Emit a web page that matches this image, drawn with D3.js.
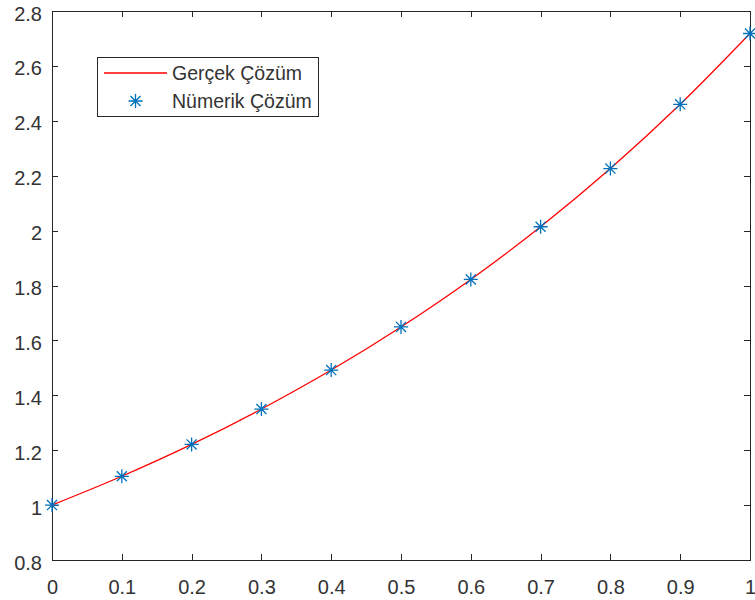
<!DOCTYPE html>
<html>
<head>
<meta charset="utf-8">
<title>Gerçek ve Nümerik Çözüm</title>
<style>
  body { margin: 0; background: #fff; }
  svg { font-family: "Liberation Sans", Arial, sans-serif; }
  .axis path, .axis line { fill: none; stroke: #262626; stroke-width: 1px; shape-rendering: crispEdges; }
  .axis text { fill: #333; font-size: 20px; }
</style>
</head>
<body>
<script src="https://cdn.jsdelivr.net/npm/d3@7"></script>
<script>

// values
var xVals = [0, 0.1, 0.2, 0.3, 0.4, 0.5, 0.6, 0.7, 0.8, 0.9, 1];
var exactVals = [1.000, 1.105, 1.221, 1.350, 1.492, 1.649, 1.822, 2.014, 2.226, 2.460, 2.718];
var numericVals = [1.000, 1.105, 1.221, 1.350, 1.492, 1.649, 1.822, 2.014, 2.226, 2.460, 2.718];
var xTicks = [0, 0.1, 0.2, 0.3, 0.4, 0.5, 0.6, 0.7, 0.8, 0.9, 1];
var yTicks = [0.8, 1, 1.2, 1.4, 1.6, 1.8, 2, 2.2, 2.4, 2.6, 2.8];
var legendLabels = ["Gerçek Çözüm", "Nümerik Çözüm"];

var margin = {top: 11, right: 5, bottom: 40, left: 52},
    width = 755 - margin.left - margin.right,
    height = 600 - margin.top - margin.bottom;

var x = d3.scaleLinear().domain([0, 1]).range([0, width]);
var y = d3.scaleLinear().domain([0.8, 2.8]).range([height, 0]);

var svg = d3.select("body").append("svg")
    .attr("width", width + margin.left + margin.right)
    .attr("height", height + margin.top + margin.bottom)
  .append("g")
    .attr("transform", "translate(" + margin.left + "," + margin.top + ")");

var fmt = function (d) { return d3.format("")(+d.toFixed(1)); };

// axes, ticks pointing inward like matlab
svg.append("g").attr("class", "axis")
    .attr("transform", "translate(0," + height + ")")
    .call(d3.axisBottom(x).tickValues(xTicks).tickFormat(fmt).tickSizeInner(-6).tickSizeOuter(0).tickPadding(20));
svg.append("g").attr("class", "axis")
    .call(d3.axisTop(x).tickValues(xTicks).tickFormat("").tickSizeInner(-6).tickSizeOuter(0));
var gY = svg.append("g").attr("class", "axis")
    .call(d3.axisLeft(y).tickValues(yTicks).tickFormat(fmt).tickSizeInner(-6).tickSizeOuter(0).tickPadding(10));
gY.selectAll("text").attr("dy", "0.45em");
svg.append("g").attr("class", "axis")
    .attr("transform", "translate(" + width + ",0)")
    .call(d3.axisRight(y).tickValues(yTicks).tickFormat("").tickSizeInner(-6).tickSizeOuter(0));

var exact = xVals.map(function (d, i) { return {q: d, p: exactVals[i]}; });
var numeric = xVals.map(function (d, i) { return {q: d, p: numericVals[i]}; });

var line = d3.line()
    .x(function (d) { return x(d.q); })
    .y(function (d) { return y(d.p); })
    .curve(d3.curveMonotoneX);

svg.append("path")
    .datum(exact)
    .attr("d", line)
    .style("fill", "none")
    .style("stroke", "#ff0000")
    .style("stroke-width", 1.3);

// matlab style '*' marker: plus + cross
function star(cx, cy, r) {
  var p = d3.path(), k = r * 0.72;
  p.moveTo(cx - r, cy); p.lineTo(cx + r, cy);
  p.moveTo(cx, cy - r); p.lineTo(cx, cy + r);
  p.moveTo(cx - k, cy - k); p.lineTo(cx + k, cy + k);
  p.moveTo(cx - k, cy + k); p.lineTo(cx + k, cy - k);
  return p.toString();
}

svg.selectAll(".mark")
    .data(numeric)
  .enter().append("path")
    .attr("class", "mark")
    .attr("d", function (d) { return star(x(d.q), y(d.p), 7); })
    .style("fill", "none")
    .style("stroke", "#0072bd")
    .style("stroke-width", 1.3);

// legend
var lg = svg.append("g").attr("transform", "translate(45,46)");
lg.append("rect")
    .attr("width", 221).attr("height", 59)
    .style("fill", "#fff").style("stroke", "#262626").style("stroke-width", 1)
    .style("shape-rendering", "crispEdges");
lg.append("line")
    .attr("x1", 7).attr("x2", 70).attr("y1", 16).attr("y2", 16)
    .style("stroke", "#ff0000").style("stroke-width", 1.3);
lg.append("path")
    .attr("d", star(38.5, 44, 7))
    .style("fill", "none").style("stroke", "#0072bd").style("stroke-width", 1.3);
lg.selectAll("text.lbl")
    .data(legendLabels)
  .enter().append("text")
    .attr("class", "lbl")
    .attr("x", 75)
    .attr("y", function (d, i) { return 16 + i * 28; })
    .attr("dy", "0.38em")
    .style("font-size", "19.5px")
    .style("fill", "#333")
    .text(function (d) { return d; });

</script>
</body>
</html>
